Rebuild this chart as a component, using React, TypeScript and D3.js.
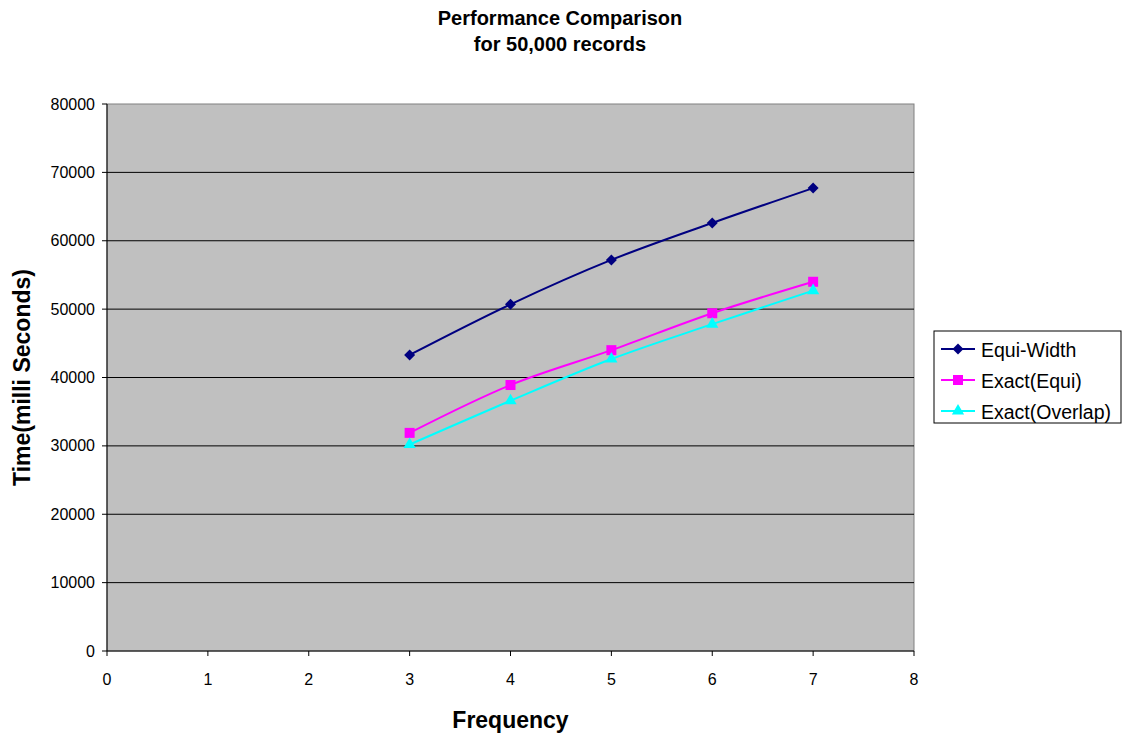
import React from 'react';
import * as d3 from 'd3';

const frequency = [3, 4, 5, 6, 7];
const equiWidth = [43300, 50700, 57200, 62600, 67700];
const exactEqui = [31900, 38900, 44000, 49400, 54000];
const exactOverlap = [30200, 36600, 42700, 47800, 52700];
const xTicks = [0, 1, 2, 3, 4, 5, 6, 7, 8];
const yTicks = [0, 10000, 20000, 30000, 40000, 50000, 60000, 70000, 80000];

const seriesList = [
  { name: 'Equi-Width', values: equiWidth, color: '#000080', marker: 'diamond' },
  { name: 'Exact(Equi)', values: exactEqui, color: '#FF00FF', marker: 'square' },
  { name: 'Exact(Overlap)', values: exactOverlap, color: '#00FFFF', marker: 'triangle' },
];

const W = 1122;
const H = 738;
const plot = { left: 107, right: 914, top: 104, bottom: 651 };
const FONT = '"Liberation Sans", Arial, sans-serif';

function Marker({ kind, x, y, color }: { kind: string; x: number; y: number; color: string }) {
  if (kind === 'diamond') {
    const d = `M${x},${y - 5.5}L${x + 5.5},${y}L${x},${y + 5.5}L${x - 5.5},${y}Z`;
    return <path d={d} fill={color} />;
  }
  if (kind === 'square') {
    return <rect x={x - 5} y={y - 5} width={10} height={10} fill={color} />;
  }
  const s = d3.symbol().type(d3.symbolTriangle).size(65)();
  return <path d={s || ''} transform={`translate(${x},${y})`} fill={color} />;
}

export default function App() {
  const x = d3.scaleLinear().domain([0, 8]).range([plot.left, plot.right]);
  const y = d3.scaleLinear().domain([0, 80000]).range([plot.bottom, plot.top]);

  const line = d3
    .line<[number, number]>()
    .x((d) => x(d[0]))
    .y((d) => y(d[1]))
    .curve(d3.curveCatmullRom.alpha(0.5));

  const legend = { x: 934, y: 331, w: 187, h: 92 };

  return (
    <svg width={W} height={H} style={{ position: 'absolute', left: 0, top: 0 }} fontFamily={FONT}>
      <rect x={0} y={0} width={W} height={H} fill="#fff" />

      {/* title */}
      <text x={560} y={25} textAnchor="middle" fontSize={20} fontWeight="bold">
        Performance Comparison
      </text>
      <text x={560} y={51} textAnchor="middle" fontSize={20} fontWeight="bold">
        for 50,000 records
      </text>

      {/* plot area */}
      <rect
        x={plot.left}
        y={plot.top}
        width={plot.right - plot.left}
        height={plot.bottom - plot.top}
        fill="#C0C0C0"
        stroke="#808080"
        strokeWidth={1}
      />
      {yTicks.slice(1, -1).map((t) => (
        <line key={t} x1={plot.left} x2={plot.right} y1={y(t)} y2={y(t)} stroke="#000" strokeWidth={1} />
      ))}

      {/* axes */}
      <line x1={plot.left} x2={plot.left} y1={plot.top} y2={plot.bottom} stroke="#000" />
      <line x1={plot.left} x2={plot.right} y1={plot.bottom} y2={plot.bottom} stroke="#000" />
      {yTicks.map((t) => (
        <g key={t}>
          <line x1={plot.left - 5} x2={plot.left} y1={y(t)} y2={y(t)} stroke="#000" />
          <text x={plot.left - 12} y={y(t)} dy="0.35em" textAnchor="end" fontSize={16}>
            {t}
          </text>
        </g>
      ))}
      {xTicks.map((t) => (
        <g key={t}>
          <line x1={x(t)} x2={x(t)} y1={plot.bottom} y2={plot.bottom + 5} stroke="#000" />
          <text x={x(t)} y={plot.bottom + 34} textAnchor="middle" fontSize={16}>
            {t}
          </text>
        </g>
      ))}

      <text x={(plot.left + plot.right) / 2} y={728} textAnchor="middle" fontSize={23} fontWeight="bold">
        Frequency
      </text>
      <text
        transform={`translate(30,${(plot.top + plot.bottom) / 2}) rotate(-90)`}
        textAnchor="middle"
        fontSize={23}
        fontWeight="bold"
      >
        Time(milli Seconds)
      </text>

      {/* series */}
      {seriesList.map((s) => {
        const pts = frequency.map((f, i) => [f, s.values[i]] as [number, number]);
        return (
          <g key={s.name}>
            <path d={line(pts) || ''} fill="none" stroke={s.color} strokeWidth={2} />
            {pts.map((p, i) => (
              <Marker key={i} kind={s.marker} x={x(p[0])} y={y(p[1])} color={s.color} />
            ))}
          </g>
        );
      })}

      {/* legend */}
      <rect x={legend.x} y={legend.y} width={legend.w} height={legend.h} fill="#fff" stroke="#000" />
      {seriesList.map((s, i) => {
        const cy = legend.y + 18 + i * 31;
        return (
          <g key={s.name}>
            <line x1={legend.x + 7} x2={legend.x + 41} y1={cy} y2={cy} stroke={s.color} strokeWidth={2} />
            <Marker kind={s.marker} x={legend.x + 24} y={cy} color={s.color} />
            <text x={legend.x + 47} y={cy + 1} dy="0.35em" fontSize={19.5}>
              {s.name}
            </text>
          </g>
        );
      })}
    </svg>
  );
}
